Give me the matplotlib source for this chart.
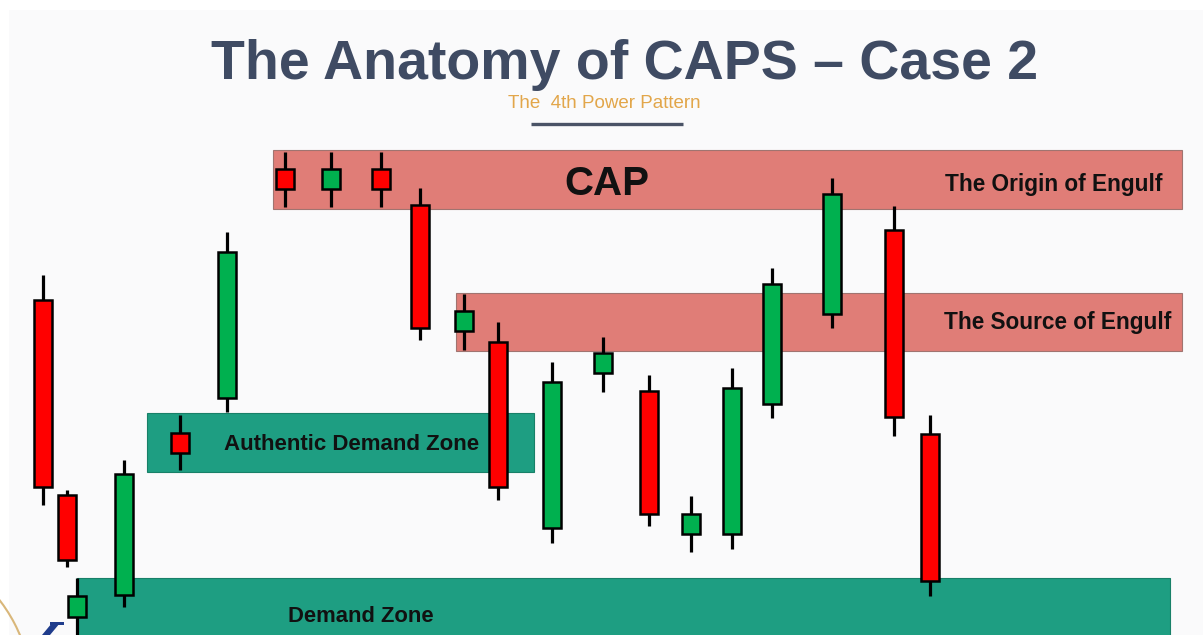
## The Anatomy of CAPS - Case 2 : candlestick sketch with supply / demand zones
import numpy as np
import matplotlib.pyplot as plt
from matplotlib.patches import Rectangle, Polygon, Arc

plt.rcParams['font.family'] = ['Liberation Sans', 'DejaVu Sans']

## Candles (x slot, open, high, low, close)
candle_x = [43, 67, 77, 124, 180, 227, 285, 331, 381, 420, 464,
            498, 552, 603, 649, 691, 732, 772, 832, 894, 930]
opens  = [335, 140, 18, 40, 202, 237, 466, 446, 466, 430, 304,
          293, 107, 262, 244, 101, 101, 231, 321, 405, 201]
highs  = [360, 145, 57, 175, 220, 403, 483, 483, 483, 447, 341,
          313, 273, 298, 260, 139, 267, 367, 457, 429, 220]
lows   = [130, 68, -10, 28, 165, 223, 428, 428, 428, 295, 285,
          135, 92, 243, 109, 83, 86, 217, 307, 199, 39]
closes = [148, 75, 39, 161, 182, 383, 446, 466, 446, 307, 324,
          148, 253, 282, 121, 121, 247, 351, 441, 218, 54]

## Zones (left, right, low, high)
zone_names  = ["The Origin of Engulf", "The Source of Engulf",
               "Authentic Demand Zone", "Demand Zone"]
zone_left   = [273, 456, 147, 77]
zone_right  = [1182, 1182, 534, 1170]
zone_low    = [426, 284, 163, -10]
zone_high   = [485, 342, 222, 57]
zone_kind   = ["supply", "supply", "demand", "demand"]

SUPPLY_FILL, SUPPLY_EDGE = "#E07D77", "#A07470"
DEMAND_FILL, DEMAND_EDGE = "#1E9E82", "#188068"
UP, DOWN = "#00B04F", "#FF0000"

fig = plt.figure(figsize=(12.03, 6.35), dpi=100)
fig.patch.set_facecolor("white")
ax = fig.add_axes([0, 0, 1, 1])
ax.set_xlim(0, 1203)
ax.set_ylim(0, 635)
ax.axis("off")

# slide background
ax.add_patch(Rectangle((9, 0), 1203, 625, facecolor="#FAFAFB", edgecolor="none", zorder=0))

## Zones
for left, right, lo, hi, kind in zip(zone_left, zone_right, zone_low, zone_high, zone_kind):
    fill = SUPPLY_FILL if kind == "supply" else DEMAND_FILL
    edge = SUPPLY_EDGE if kind == "supply" else DEMAND_EDGE
    ax.add_patch(Rectangle((left, lo), right - left, hi - lo,
                           facecolor=fill, edgecolor=edge, linewidth=0.8, zorder=1))

## Candles
o, h, l, c = map(np.array, (opens, highs, lows, closes))
colors = [UP if cc >= oo else DOWN for oo, cc in zip(o, c)]
ax.vlines(candle_x, l, h, color="black", linewidth=2.3, zorder=3)
ax.bar(candle_x, np.abs(c - o), bottom=np.minimum(o, c), width=18,
       color=colors, edgecolor="black", linewidth=1.8, zorder=4)

## Zone labels
label_font = dict(fontweight="bold", color="#111111", zorder=5)
ax.text(607, 451, "CAP", fontsize=29, ha="center", va="center", **label_font)
ax.text(1054, 450, zone_names[0], fontsize=16.3, ha="center", va="center", **label_font)
ax.text(1058, 312, zone_names[1], fontsize=16.3, ha="center", va="center", **label_font)
ax.text(352, 191, zone_names[2], fontsize=16, ha="center", va="center", **label_font)
ax.text(361, 19, zone_names[3], fontsize=15.8, ha="center", va="center", **label_font)

## Title block
ax.text(625, 570, "The Anatomy of CAPS \u2013 Case 2", fontsize=40, fontweight="bold",
        color="#3F4B63", ha="center", va="center")
ax.text(604, 532, "The  4th Power Pattern", fontsize=13.5, color="#E2A64A",
        ha="center", va="center")
ax.plot([531, 683], [511, 511], color="#4A5366", linewidth=2.4, solid_capstyle="butt")

# logo corner: gold ring and blue slanted stroke
ax.add_patch(Arc((-123, -60), 310, 310, theta1=15, theta2=40, color="#D9B77A",
                 linewidth=1.5, zorder=2))
ax.add_patch(Polygon([[42, 0], [50, 0], [60, 12], [52, 12]], closed=True,
                     facecolor="#1F3C8C", edgecolor="none", zorder=2))
ax.add_patch(Polygon([[50, 10], [64, 10], [64, 13], [50, 13]], closed=True,
                     facecolor="#1F3C8C", edgecolor="none", zorder=2))

fig.savefig("out.png", dpi=100)
